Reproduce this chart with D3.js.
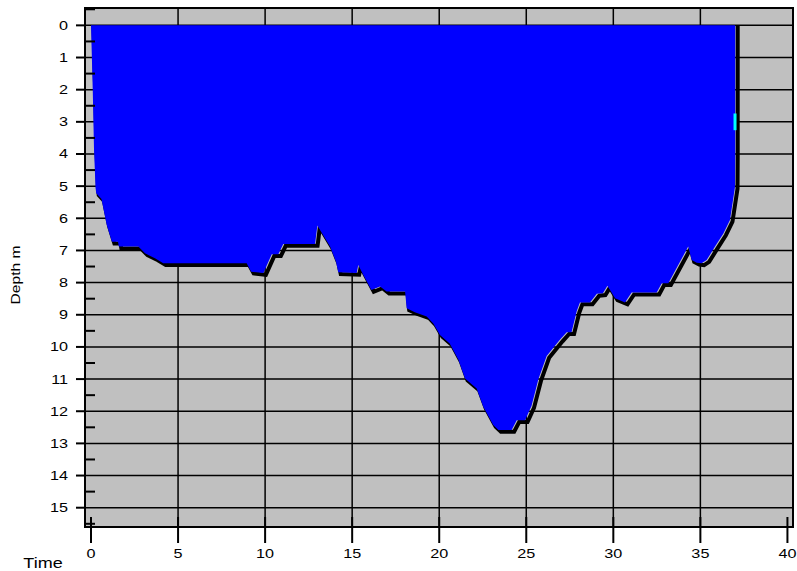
<!DOCTYPE html>
<html>
<head>
<meta charset="utf-8">
<title>Depth profile</title>
<script src="https://d3js.org/d3.v7.min.js"></script>
<style>
    body { margin: 0; background: #fff; }
    text { font-family: "Liberation Sans", Arial, sans-serif; fill: #000; }
</style>
</head>
<body>
<div id="chart"></div>
<script>
// axis values
const depthTicks = d3.range(0, 16);
const depthMinor = d3.range(-0.5, 16, 1);
const timeTicks = [0, 5, 10, 15, 20, 25, 30, 35, 40];
const timeGrid = [5, 10, 15, 20, 25, 30, 35];

// echo sounder profile: time vs bottom depth (m)
const waterTime = [0.0, 0.1, 0.17, 0.26, 0.3, 0.6, 0.9, 1.2, 1.55, 1.6, 2.72, 3.1, 3.7, 4.15, 8.94,
    9.2, 9.9, 10.38, 10.76, 11.04, 12.87, 13.0, 13.25, 13.73, 14.07, 14.2, 15.26, 15.35, 15.64,
    16.1, 16.6, 16.98, 18.04, 18.13, 18.6, 19.28, 19.66, 20.04, 20.6, 21.1, 21.48, 22.15, 22.53,
    23.1, 23.4, 24.16, 24.45, 24.93, 25.3, 25.7, 26.17, 26.94, 27.32, 27.6, 27.9, 28.08, 28.66,
    29.05, 29.4, 29.66, 30.1, 30.67, 31.05, 32.49, 32.78, 33.16, 34.3, 34.5, 34.79, 35.07, 35.36,
    35.84, 36.32, 36.7, 36.99, 37.0, 37.0];
const waterDepth = [0.0, 2.0, 3.8, 5.05, 5.22, 5.4, 6.2, 6.73, 6.73, 6.88, 6.88, 7.09, 7.25, 7.4, 7.4,
    7.66, 7.7, 7.12, 7.12, 6.8, 6.8, 6.22, 6.45, 6.88, 7.35, 7.68, 7.7, 7.45, 7.76,
    8.23, 8.12, 8.28, 8.28, 8.8, 8.92, 9.05, 9.27, 9.63, 9.89, 10.4, 10.98, 11.29, 11.86,
    12.43, 12.58, 12.58, 12.28, 12.28, 11.84, 11.0, 10.28, 9.77, 9.54, 9.54, 8.88, 8.62, 8.62,
    8.35, 8.33, 8.1, 8.49, 8.62, 8.31, 8.31, 8.02, 8.02, 6.88, 7.3, 7.38, 7.4, 7.3,
    6.88, 6.47, 6.05, 5.02, 4.03, 0.0];

// small cyan marker on the right edge
const markerTime = [36.99, 36.99];
const markerDepth = [2.74, 3.26];

const width = 797, height = 571;
const plot = {left: 85, right: 793, top: 8, bottom: 527};

const svg = d3.select("#chart").append("svg")
    .attr("width", width)
    .attr("height", height);

const x = d3.scaleLinear().domain([-0.345, 40.32]).range([plot.left, plot.right]);
const y = d3.scaleLinear().domain([-0.54, 15.6]).range([plot.top, plot.bottom]);

const profile = waterTime.map((t, i) => ({t: t, d: waterDepth[i]}));

// background
svg.append("rect")
    .attr("x", plot.left).attr("y", plot.top)
    .attr("width", plot.right - plot.left).attr("height", plot.bottom - plot.top)
    .attr("fill", "#c0c0c0");

// grid
svg.append("g").selectAll("line")
    .data(depthTicks).enter().append("line")
    .attr("x1", plot.left).attr("x2", plot.right)
    .attr("y1", d => y(d)).attr("y2", d => y(d))
    .attr("stroke", "#000").attr("stroke-width", 1.5);

svg.append("g").selectAll("line")
    .data(timeGrid).enter().append("line")
    .attr("x1", d => x(d)).attr("x2", d => x(d))
    .attr("y1", plot.top).attr("y2", plot.bottom)
    .attr("stroke", "#000").attr("stroke-width", 1.5);

// bottom line (drawn slightly offset, under the water fill)
svg.append("path")
    .datum(profile)
    .attr("transform", "translate(2.5,1.8)")
    .attr("fill", "none")
    .attr("stroke", "#000")
    .attr("stroke-width", 4)
    .attr("stroke-linecap", "square")
    .attr("d", d3.line().x(p => x(p.t)).y(p => y(p.d)));

// water column
svg.append("path")
    .datum(profile)
    .attr("fill", "#0000ff")
    .attr("d", d3.area().x(p => x(p.t)).y0(y(0)).y1(p => y(p.d)));

// marker
svg.append("line")
    .attr("x1", x(markerTime[0])).attr("x2", x(markerTime[1]))
    .attr("y1", y(markerDepth[0])).attr("y2", y(markerDepth[1]))
    .attr("stroke", "#00ffff").attr("stroke-width", 3);

// frame
svg.append("rect")
    .attr("x", plot.left).attr("y", plot.top)
    .attr("width", plot.right - plot.left).attr("height", plot.bottom - plot.top)
    .attr("fill", "none").attr("stroke", "#000").attr("stroke-width", 2);

// y ticks
svg.append("g").selectAll("line")
    .data(depthTicks).enter().append("line")
    .attr("x1", plot.left - 9).attr("x2", plot.left)
    .attr("y1", d => y(d)).attr("y2", d => y(d))
    .attr("stroke", "#000").attr("stroke-width", 2);

svg.append("g").selectAll("line")
    .data(depthMinor).enter().append("line")
    .attr("x1", plot.left).attr("x2", plot.left + 10)
    .attr("y1", d => y(d)).attr("y2", d => y(d))
    .attr("stroke", "#000").attr("stroke-width", 2);

svg.append("g").selectAll("text")
    .data(depthTicks).enter().append("text")
    .attr("transform", d => "translate(68," + (y(d) + 4.5) + ") scale(1.35,1)")
    .attr("text-anchor", "end")
    .attr("font-size", 12)
    .text(d => d);

// x ticks
svg.append("g").selectAll("line")
    .data(timeTicks).enter().append("line")
    .attr("x1", d => x(d)).attr("x2", d => x(d))
    .attr("y1", plot.bottom - 10).attr("y2", plot.bottom + 16)
    .attr("stroke", "#000").attr("stroke-width", 2);

svg.append("g").selectAll("text")
    .data(timeTicks).enter().append("text")
    .attr("transform", d => "translate(" + x(d) + ",557.5) scale(1.35,1)")
    .attr("text-anchor", "middle")
    .attr("font-size", 12)
    .text(d => d);

// axis titles
svg.append("text")
    .attr("transform", "translate(43,568) scale(1.2,1)")
    .attr("text-anchor", "middle")
    .attr("font-size", 15)
    .text("Time");

svg.append("text")
    .attr("transform", "translate(19.5,275) rotate(-90) scale(1.3,1)")
    .attr("text-anchor", "middle")
    .attr("font-size", 12)
    .text("Depth m");
</script>
</body>
</html>
